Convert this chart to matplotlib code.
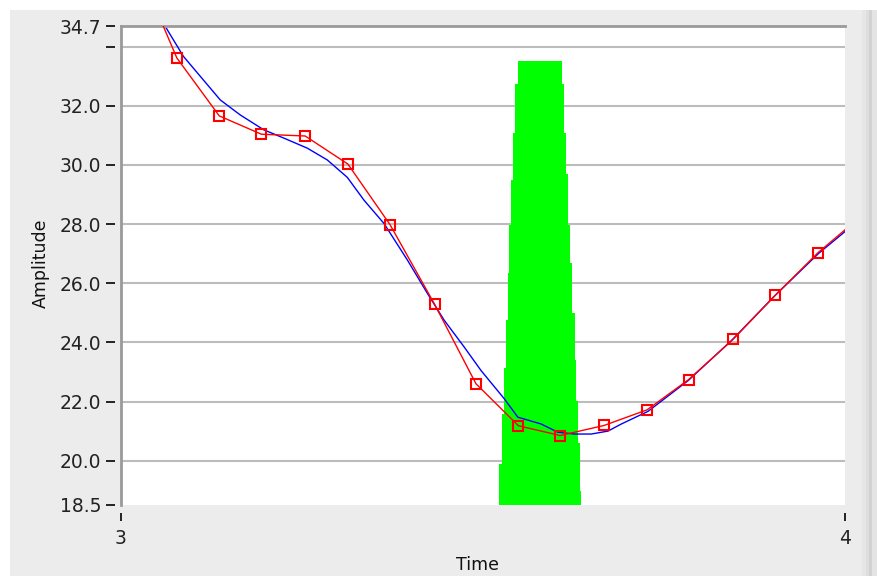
import matplotlib
matplotlib.use('Agg')
import matplotlib.pyplot as plt
from matplotlib.patches import Rectangle

# ---------------- data ----------------
red_x = [3.0183, 3.0771, 3.1357, 3.1939, 3.2544, 3.3134, 3.3716, 3.4331, 3.4903,
         3.5489, 3.6066, 3.6672, 3.7267, 3.7839, 3.8453, 3.9040, 3.9626, 4.0214]
red_y = [37.0, 33.62, 31.66, 31.04, 30.98, 30.03, 27.98, 25.29, 22.60,
         21.18, 20.85, 21.19, 21.72, 22.74, 24.10, 25.60, 27.03, 28.25]

blue_x = [3.030, 3.061, 3.0863, 3.1371, 3.1648, 3.1971, 3.2248, 3.2572, 3.2849,
          3.3126, 3.3356, 3.3633, 3.3957, 3.4234, 3.4464, 3.4741, 3.4972, 3.5295,
          3.5481, 3.5803, 3.6035, 3.6265, 3.6496, 3.6727, 3.6911, 3.7281, 3.7835,
          3.8435, 3.9035, 3.9636, 4.0051]
blue_y = [36.1, 34.69, 33.67, 32.20, 31.69, 31.19, 30.91, 30.57, 30.17,
          29.58, 28.81, 28.02, 26.78, 25.65, 24.75, 23.84, 23.05, 22.09,
          21.47, 21.24, 20.96, 20.90, 20.90, 21.00, 21.24, 21.67, 22.71,
          24.07, 25.59, 27.01, 27.85]

# green stepped column: edge x per band, band boundaries in y
green_left_breaks = [18.5, 19.90, 21.59, 23.12, 24.75, 26.34, 27.97, 29.49, 31.09, 32.75, 33.53]
green_left_x = [3.5226, 3.5263, 3.5287, 3.5319, 3.5346, 3.5364, 3.5392, 3.5420, 3.5447, 3.5481]
green_right_breaks = [18.5, 18.98, 20.58, 22.03, 23.39, 24.98, 26.68, 27.97, 29.70, 31.09, 32.75, 33.53]
green_right_x = [3.6357, 3.6334, 3.6309, 3.6288, 3.6264, 3.6226, 3.6201, 3.6173, 3.6145, 3.6118, 3.6090]

ytick_vals = [18.5, 20.0, 22.0, 24.0, 26.0, 28.0, 30.0, 32.0, 34.0, 34.7]
ytick_labels = ['18.5', '20.0', '22.0', '24.0', '26.0', '28.0', '30.0', '32.0', '', '34.7']
grid_vals = [20.0, 22.0, 24.0, 26.0, 28.0, 30.0, 32.0, 34.0]
xtick_vals = [3, 4]
xtick_labels = ['3', '4']

# ---------------- figure ----------------
W, H = 878, 576
fig = plt.figure(figsize=(W / 100, H / 100), dpi=100, facecolor='white')
fig.patches.append(Rectangle((10 / W, 0), (878 - 10) / W, (H - 10) / H, transform=fig.transFigure,
                             facecolor='#ececec', edgecolor='none', zorder=-10))
for x0, x1, c in [(862, 866, '#e6e6e6'), (866, 869, '#dedede'), (869, 872, '#d2d2d2'), (872, 878, '#e4e4e4')]:
    fig.patches.append(Rectangle((x0 / W, 0), (x1 - x0) / W, (H - 10) / H, transform=fig.transFigure,
                                 facecolor=c, edgecolor='none', zorder=-9))

ax = fig.add_axes([121 / W, 1 - 505 / H, (845 - 121) / W, (505 - 26) / H])
ax.set_facecolor('white')
ax.set_xlim(3, 4)
ax.set_ylim(18.5, 34.7)

for g in grid_vals:
    ax.axhline(g, color='#bcbcbc', lw=1.5, zorder=0.5)

# green column
vx, vy = [], []
for i, x in enumerate(green_left_x):
    vx += [x, x]
    vy += [green_left_breaks[i], green_left_breaks[i + 1]]
for i in range(len(green_right_x) - 1, -1, -1):
    x = green_right_x[i]
    vx += [x, x]
    vy += [green_right_breaks[i + 1], green_right_breaks[i]]
ax.fill(vx, vy, color='#00ff00', lw=0, zorder=1)

ax.plot(blue_x, blue_y, color='#0000ff', lw=1.0, zorder=2)
ax.plot(red_x, red_y, color='#ff0000', lw=1.0, marker='s', markersize=6.5,
        markerfacecolor='none', markeredgecolor='#ff0000', markeredgewidth=1.5, zorder=3)

# spines
for s in ['right', 'bottom']:
    ax.spines[s].set_visible(False)
ax.spines['top'].set_color('#9a9a9a')
ax.spines['top'].set_linewidth(2.0)
ax.spines['left'].set_position(('outward', 4))
ax.spines['left'].set_visible(False)
ax.spines['bottom'].set_position(('outward', 6))
ax.plot([3, 3], [18.5, 34.7], color='#9a9a9a', lw=2.0, clip_on=False, zorder=5)

ax.set_yticks(ytick_vals)
ax.set_yticklabels(ytick_labels)
ax.set_xticks(xtick_vals)
ax.set_xticklabels(xtick_labels)
ax.tick_params(axis='y', direction='out', length=6.5, width=1.4, color='#222222',
               pad=3.5, labelsize=13.5, labelcolor='#222222')
ax.tick_params(axis='x', direction='out', length=6, width=1.4, color='#222222',
               pad=5, labelsize=13.5, labelcolor='#222222')

ax.set_xlabel('Time', fontsize=12.5, color='#111111')
ax.xaxis.set_label_coords((478 - 121) / 724, -(556 - 505) / 479)
ax.set_ylabel('Amplitude', fontsize=12.5, color='#111111')
ax.yaxis.set_label_coords(-(121 - 50) / 724, 0.505)

fig.savefig('out.png', dpi=100, facecolor=fig.get_facecolor())
